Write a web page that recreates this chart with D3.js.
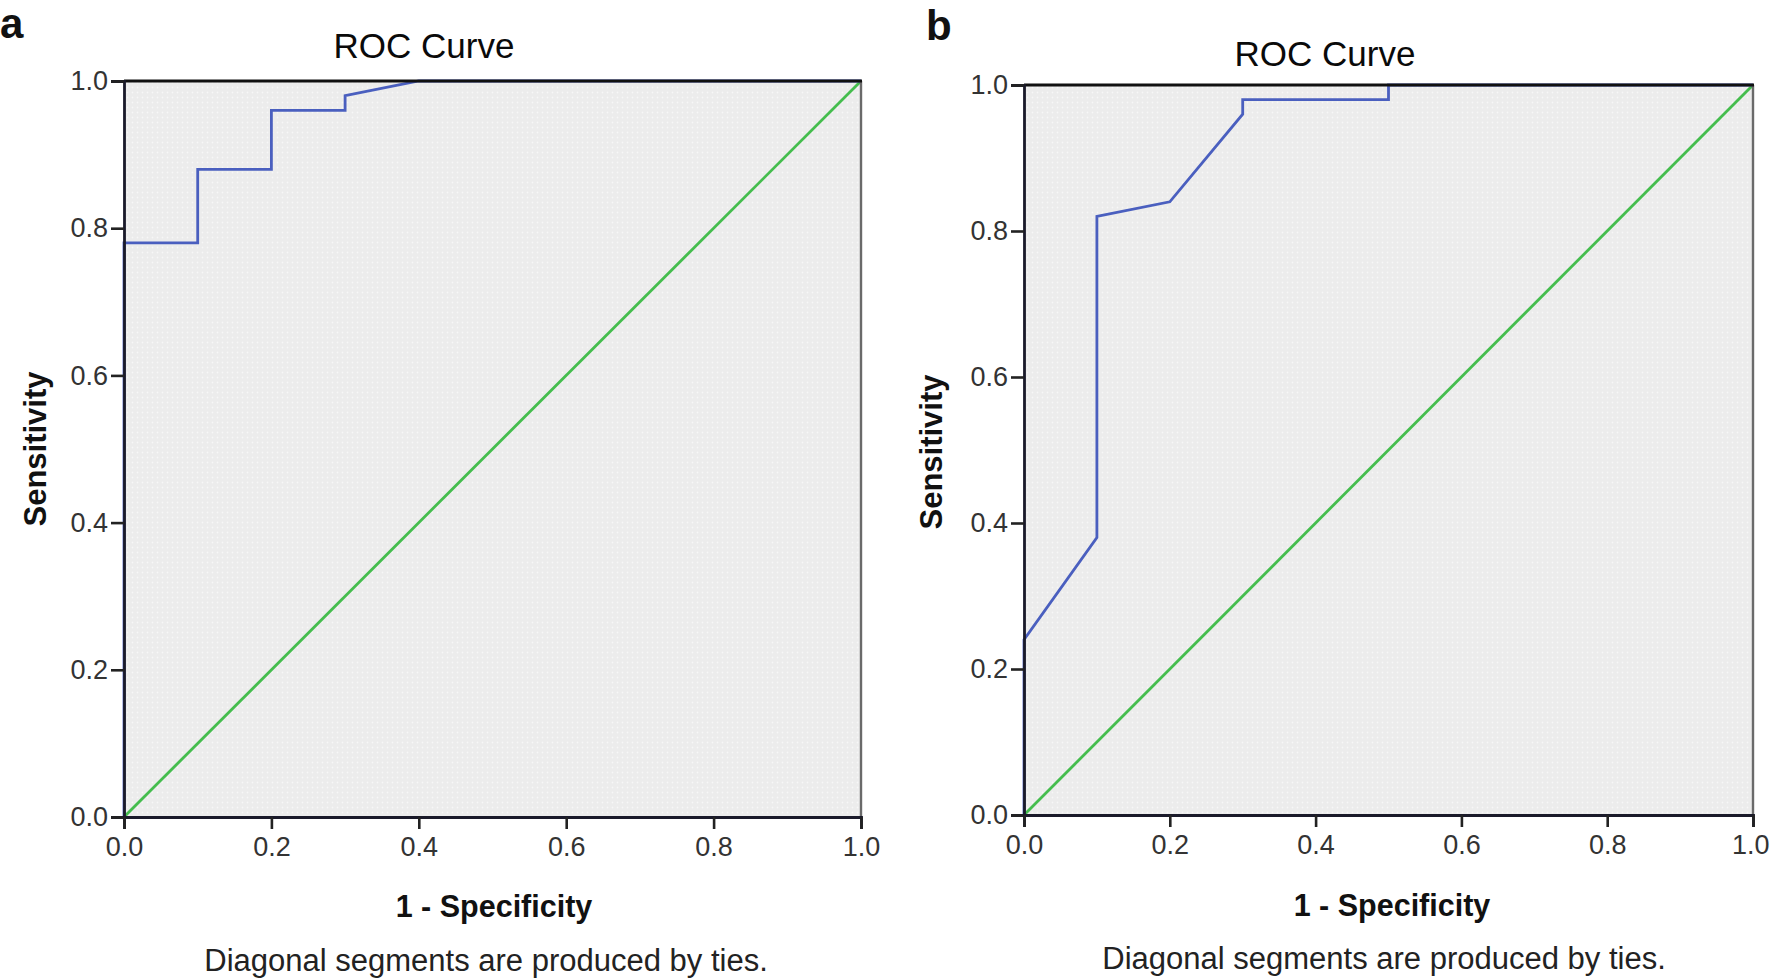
<!DOCTYPE html>
<html>
<head>
<meta charset="utf-8">
<script src="https://cdn.jsdelivr.net/npm/d3@7"></script>
<style>
  html, body { margin: 0; padding: 0; background: #fff; }
  svg { display: block; }
</style>
</head>
<body>
<svg id="chart" width="1770" height="980"></svg>
<script>
// ---------------- data ----------------
const tickValues = [0.0, 0.2, 0.4, 0.6, 0.8, 1.0];
const tickLabels = ["0.0", "0.2", "0.4", "0.6", "0.8", "1.0"];

// Panel a ROC curve (1 - Specificity, Sensitivity)
const rocA_fpr = [0.0, 0.0, 0.1, 0.1, 0.2, 0.2, 0.3, 0.3, 0.4, 1.0];
const rocA_tpr = [0.0, 0.78, 0.78, 0.88, 0.88, 0.96, 0.96, 0.98, 1.0, 1.0];

// Panel b ROC curve
const rocB_fpr = [0.0, 0.0, 0.1, 0.1, 0.2, 0.3, 0.3, 0.5, 0.5, 1.0];
const rocB_tpr = [0.0, 0.24, 0.38, 0.82, 0.84, 0.96, 0.98, 0.98, 1.0, 1.0];

// Reference line
const refLine_fpr = [0.0, 1.0];
const refLine_tpr = [0.0, 1.0];

const panelLetters = ["a", "b"];
const titleText = "ROC Curve";
const yTitle = "Sensitivity";
const xTitle = "1 - Specificity";
const footnote = "Diagonal segments are produced by ties.";

// ---------------- layout ----------------
const layouts = [
  { left: 124, right: 861, top: 81, bottom: 817,
    letterX: 0, letterY: 38, titleX: 424, titleY: 58,
    sensX: 46, sensY: 449, specX: 494, specY: 917, diagX: 486, diagY: 971 },
  { left: 1024, right: 1753, top: 85, bottom: 815,
    letterX: 926, letterY: 40, titleX: 1325, titleY: 66,
    sensX: 942, sensY: 452, specX: 1392, specY: 916, diagX: 1384, diagY: 969 }
];
const rocs = [
  { fpr: rocA_fpr, tpr: rocA_tpr },
  { fpr: rocB_fpr, tpr: rocB_tpr }
];

const svg = d3.select("#chart");
const baseFont = "'Liberation Sans', Arial, sans-serif";

// dotted fill pattern
const defs = svg.append("defs");
const pat = defs.append("pattern")
  .attr("id", "dots").attr("patternUnits", "userSpaceOnUse")
  .attr("width", 5).attr("height", 5);
pat.append("rect").attr("width", 5).attr("height", 5).attr("fill", "#ececec");
pat.append("circle").attr("cx", 2.5).attr("cy", 2.5).attr("r", 0.9).attr("fill", "#f7f7f7");

layouts.forEach((L, i) => {
  const g = svg.append("g");
  const x = d3.scaleLinear().domain([0, 1]).range([L.left, L.right]);
  const y = d3.scaleLinear().domain([0, 1]).range([L.bottom, L.top]);

  // background
  g.append("rect")
    .attr("x", x(0)).attr("y", y(1))
    .attr("width", x(1) - x(0)).attr("height", y(0) - y(1))
    .attr("fill", "url(#dots)");

  // reference line
  const line = d3.line().x(d => x(d[0])).y(d => y(d[1]));
  g.append("path")
    .datum(refLine_fpr.map((v, k) => [v, refLine_tpr[k]]))
    .attr("d", line).attr("fill", "none")
    .attr("stroke", "#45bd4e").attr("stroke-width", 2.8);

  // ROC curve
  const r = rocs[i];
  g.append("path")
    .datum(r.fpr.map((v, k) => [v, r.tpr[k]]))
    .attr("d", line).attr("fill", "none")
    .attr("stroke", "#4a5fbf").attr("stroke-width", 2.8)
    .attr("stroke-linejoin", "miter");

  // right border (gray) and top border (black), drawn over the curves
  g.append("line").attr("x1", x(1)).attr("x2", x(1)).attr("y1", y(1)).attr("y2", y(0))
    .attr("stroke", "#6a6a6a").attr("stroke-width", 2.4);
  g.append("line").attr("x1", x(0)).attr("x2", x(1) + 1).attr("y1", y(1)).attr("y2", y(1))
    .attr("stroke", "#111").attr("stroke-width", 2.8);

  // axes
  const yAxis = d3.axisLeft(y).tickValues(tickValues)
    .tickFormat((d, k) => tickLabels[k]).tickSize(13).tickPadding(3);
  const xAxis = d3.axisBottom(x).tickValues(tickValues)
    .tickFormat((d, k) => tickLabels[k]).tickSize(12).tickPadding(8);

  const ya = g.append("g").attr("transform", `translate(${x(0)},0)`).call(yAxis);
  const xa = g.append("g").attr("transform", `translate(0,${y(0)})`).call(xAxis);

  [ya, xa].forEach(a => {
    a.select(".domain").attr("stroke", "#1a1a2a").attr("stroke-width", 2.8);
    a.selectAll(".tick line").attr("stroke", "#222").attr("stroke-width", 2.6);
    a.selectAll(".tick text")
      .attr("font-family", baseFont).attr("font-size", 27).attr("fill", "#333");
  });
  // keep the last x label inside the page
  xa.selectAll(".tick text").filter(d => d === 1.0 && x(1) + 20 > 1770)
    .attr("text-anchor", "end").attr("x", 1770 - x(1) - 1);

  // panel letter
  g.append("text").attr("x", L.letterX).attr("y", L.letterY)
    .attr("font-family", baseFont).attr("font-size", 42).attr("font-weight", "bold")
    .attr("fill", "#111").text(panelLetters[i]);

  // title
  g.append("text").attr("x", L.titleX).attr("y", L.titleY)
    .attr("text-anchor", "middle")
    .attr("font-family", baseFont).attr("font-size", 35).attr("fill", "#0a0a0a")
    .text(titleText);

  // y title
  g.append("text")
    .attr("transform", `translate(${L.sensX},${L.sensY}) rotate(-90)`)
    .attr("text-anchor", "middle")
    .attr("font-family", baseFont).attr("font-size", 31).attr("font-weight", "bold")
    .attr("fill", "#111").text(yTitle);

  // x title
  g.append("text").attr("x", L.specX).attr("y", L.specY)
    .attr("text-anchor", "middle")
    .attr("font-family", baseFont).attr("font-size", 30.5).attr("font-weight", "bold")
    .attr("fill", "#111").text(xTitle);

  // footnote
  g.append("text").attr("x", L.diagX).attr("y", L.diagY)
    .attr("text-anchor", "middle")
    .attr("font-family", baseFont).attr("font-size", 31).attr("fill", "#222")
    .text(footnote);
});
</script>
</body>
</html>
